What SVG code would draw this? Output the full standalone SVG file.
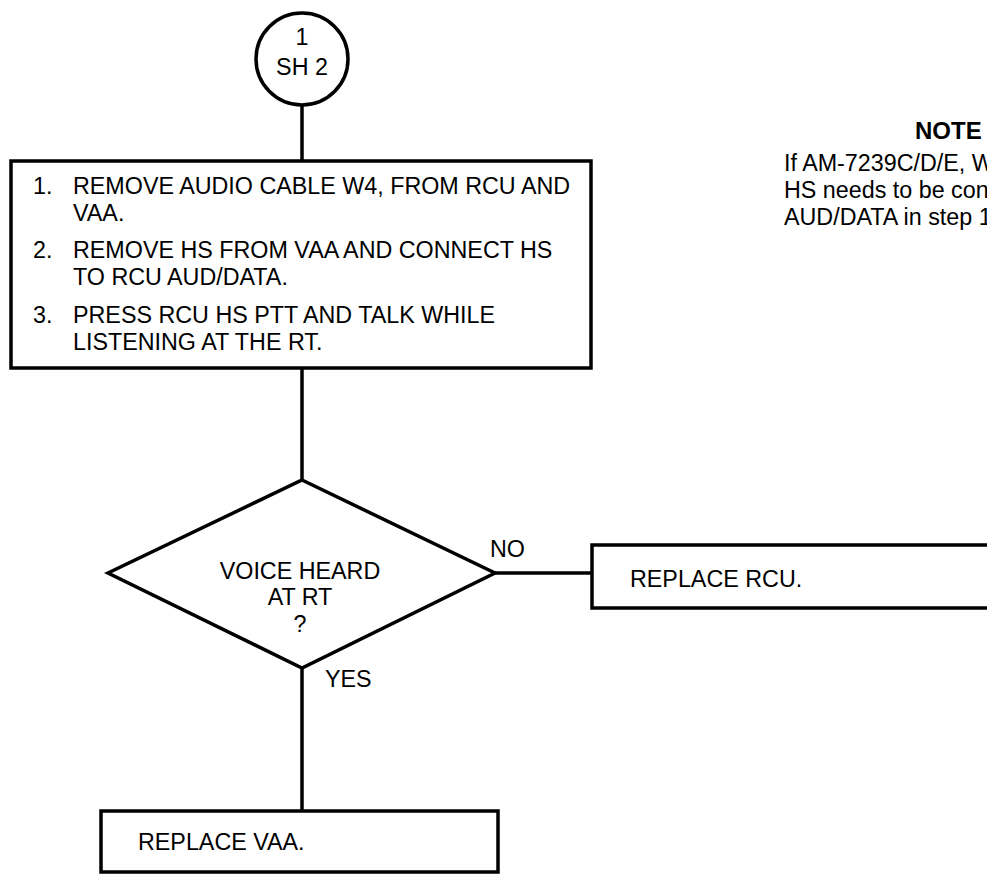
<svg xmlns="http://www.w3.org/2000/svg" width="987" height="874" viewBox="0 0 987 874">
<style>
.s{fill:none;stroke:#000;stroke-width:3.5}
.b{fill:#fff;stroke:#000;stroke-width:3.5}
text{font-family:"Liberation Sans",Arial,sans-serif;font-size:23.3px;fill:#000}
.c{text-anchor:middle}
.h{font-size:24px;font-weight:bold}
</style>
<rect width="987" height="874" fill="#fff"/>
<g id="connectors">
<line class="s" x1="302" y1="104" x2="302" y2="161"/>
<line class="s" x1="302" y1="368" x2="302" y2="480"/>
<line class="s" x1="495" y1="573" x2="592" y2="573"/>
<line class="s" x1="302" y1="668" x2="302" y2="811"/>
<text x="490" y="557">NO</text>
<text x="325" y="687">YES</text>
</g>
<g id="start">
<circle class="b" cx="302" cy="59" r="46"/>
<text class="c" x="302" y="45">1</text>
<text class="c" x="302" y="75">SH 2</text>
</g>
<g id="steps">
<rect class="b" x="11" y="161" width="580" height="207"/>
<text x="33" y="194">1.</text><text x="73" y="194">REMOVE AUDIO CABLE W4, FROM RCU AND</text>
<text x="73" y="221">VAA.</text>
<text x="33" y="258">2.</text><text x="73" y="258">REMOVE HS FROM VAA AND CONNECT HS</text>
<text x="73" y="285">TO RCU AUD/DATA.</text>
<text x="33" y="323">3.</text><text x="73" y="323">PRESS RCU HS PTT AND TALK WHILE</text>
<text x="73" y="350">LISTENING AT THE RT.</text>
</g>
<g id="decision">
<polygon class="b" points="302,480 495,573 302,668 108,573"/>
<text class="c" x="300" y="579">VOICE HEARD</text>
<text class="c" x="300" y="605">AT RT</text>
<text class="c" x="300" y="632">?</text>
</g>
<g id="replace-rcu">
<path class="s" d="M1000,545 H592 V608 H1000"/>
<text x="630" y="587">REPLACE RCU.</text>
</g>
<g id="replace-vaa">
<rect class="b" x="101" y="811" width="397" height="61"/>
<text x="138" y="850">REPLACE VAA.</text>
</g>
<g id="note">
<text class="h" x="915" y="139">NOTE</text>
<text x="784" y="171">If AM-7239C/D/E, W</text>
<text x="784" y="198">HS needs to be con</text>
<text x="784" y="225">AUD/DATA in step 1</text>
</g>
</svg>
